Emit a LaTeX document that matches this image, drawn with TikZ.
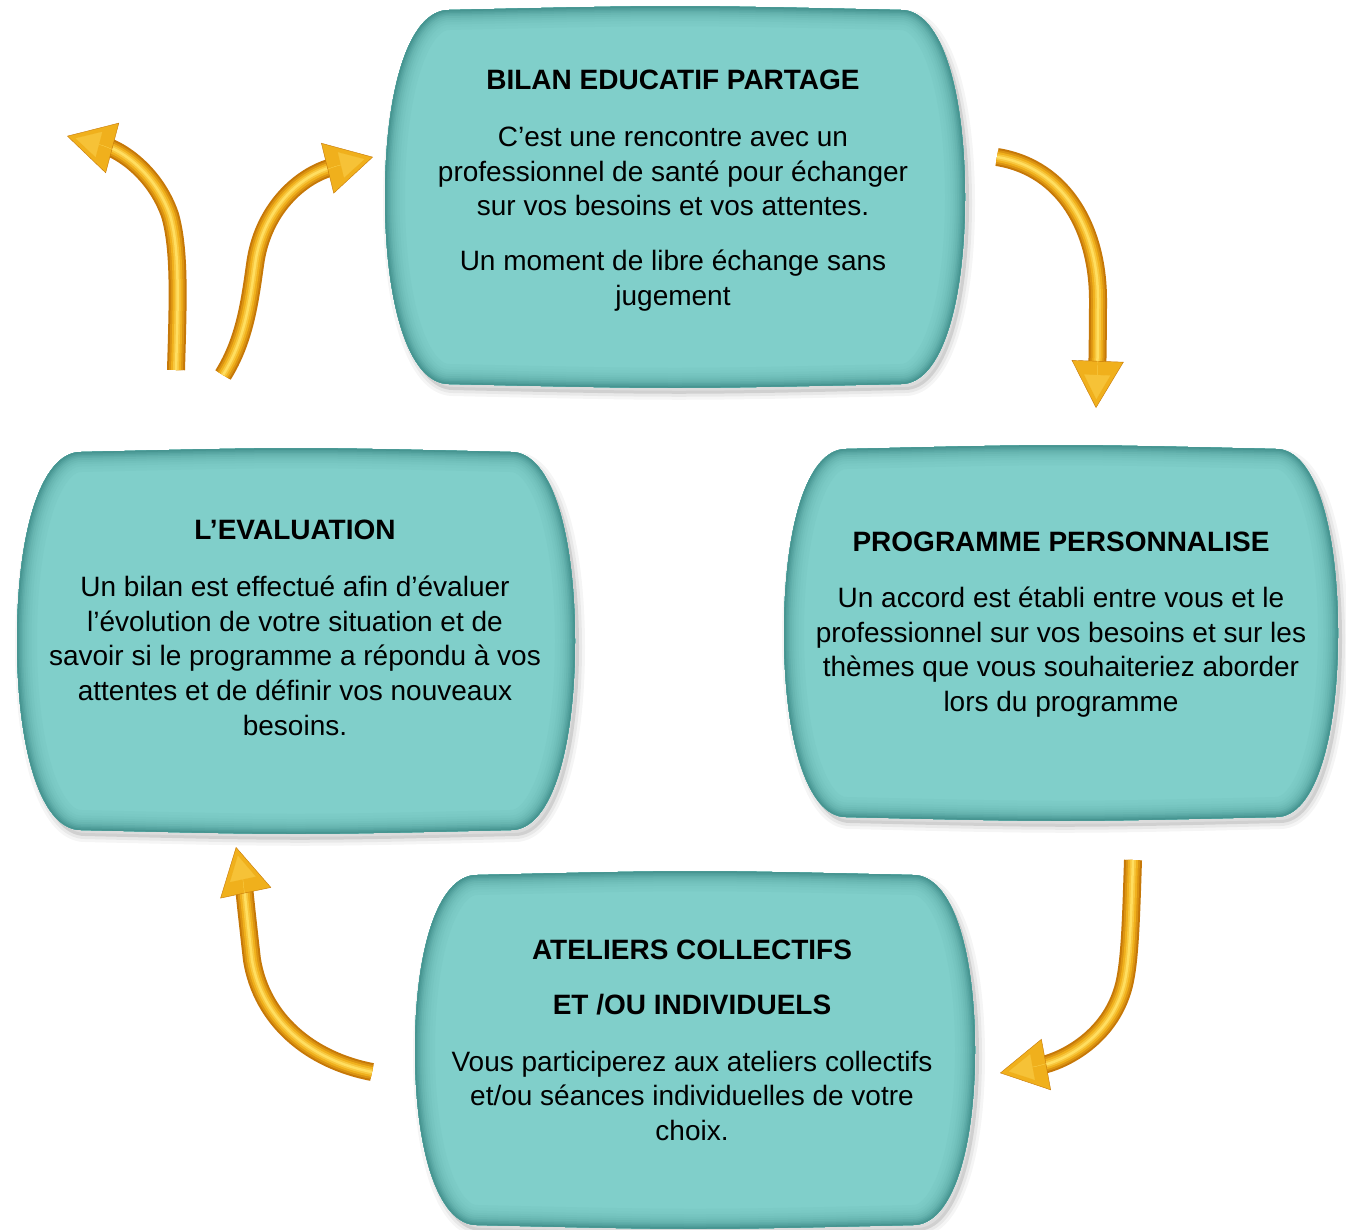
\documentclass[tikz,border=0pt]{standalone}
\usepackage{fontspec}
\setmainfont{Liberation Sans}
\usetikzlibrary{arrows.meta}
\definecolor{tealbase}{RGB}{128,207,202}
\definecolor{tealedge}{RGB}{58,136,132}
\definecolor{golddark}{RGB}{198,120,8}
\definecolor{goldmid}{RGB}{240,176,28}
\definecolor{goldlight}{RGB}{255,222,96}

% barrel-shaped box: centre x, centre y, half width, half height, corner inset
\newcommand\barrelpath[5]{(#1-#3+#5,#2-#4) .. controls (#1,#2-#4-5) .. (#1+#3-#5,#2-#4)
  .. controls (#1+#3-0.35*#5,#2-#4) and (#1+#3,#2-0.55*#4) .. (#1+#3,#2)
  .. controls (#1+#3,#2+0.55*#4) and (#1+#3-0.35*#5,#2+#4) .. (#1+#3-#5,#2+#4)
  .. controls (#1,#2+#4+5) .. (#1-#3+#5,#2+#4)
  .. controls (#1-#3+0.35*#5,#2+#4) and (#1-#3,#2+0.55*#4) .. (#1-#3,#2)
  .. controls (#1-#3,#2-0.55*#4) and (#1-#3+0.35*#5,#2-#4) .. cycle}

\newcommand\drawbarrel[5]{%
  \begin{scope}[shift={(4,6)}]
    \fill[black,opacity=0.10] \barrelpath{#1}{#2}{#3}{#4}{#5};
    \draw[black,opacity=0.05,line width=6pt] \barrelpath{#1}{#2}{#3}{#4}{#5};
    \draw[black,opacity=0.04,line width=12pt] \barrelpath{#1}{#2}{#3}{#4}{#5};
  \end{scope}
  \begin{scope}
    \clip \barrelpath{#1}{#2}{#3}{#4}{#5};
    \fill[tealbase] \barrelpath{#1}{#2}{#3}{#4}{#5};
    \foreach \w/\m in {40/95,34/91,29/86,24/80,20/73,16/65,12/55,9/44,6/32,3/18}
      {\draw[tealbase!\m!tealedge,line width=\w pt] \barrelpath{#1}{#2}{#3}{#4}{#5};}
  \end{scope}}

\newcommand\goldarrow[1]{%
  \draw[draw=golddark,line width=18pt,shorten >=40pt] #1;
  \draw[draw=golddark!50!goldmid,line width=14pt,shorten >=40pt] #1;
  \draw[draw=goldmid,line width=10pt,shorten >=40pt] #1;
  \draw[draw=goldmid!50!goldlight,line width=6pt,shorten >=41pt] #1;
  \draw[draw=goldlight,line width=2.5pt,shorten >=42pt] #1;
  \draw[draw=goldlight,line width=0.4pt,-{Triangle[width=52pt,length=47pt,fill=goldmid,color=golddark]}] #1;
  \draw[draw=goldlight,line width=0.2pt,shorten >=9pt,-{Triangle[width=26pt,length=24pt,fill=goldmid!60!goldlight,color=goldmid!60!goldlight]}] #1;}

\tikzset{
  boxtext/.style={align=center,inner sep=0pt,anchor=north,text=black,
    font=\fontsize{28}{34.7}\selectfont},
}

\begin{document}
\begin{tikzpicture}[x=1pt,y=-1pt]
\useasboundingbox (0,0) rectangle (1346,1229);
\fill[white] (0,0) rectangle (1346,1229);

% boxes
\drawbarrel{675}{197}{290}{187}{64}
\drawbarrel{296}{641}{279}{189}{64}
\drawbarrel{1061}{633}{277}{184}{62}
\drawbarrel{695}{1050}{280}{175}{62}

\node[boxtext] (bilan) at (673,70) {\textbf{BILAN EDUCATIF PARTAGE}\\[22pt]
  C’est une rencontre avec un\\ professionnel de santé pour échanger\\
  sur vos besoins et vos attentes.\\[20pt]
  Un moment de libre échange sans\\ jugement};
\node[boxtext] (evaluation) at (295,520) {\textbf{L’EVALUATION}\\[22pt]
  Un bilan est effectué afin d’évaluer\\ l’évolution de votre situation et de\\
  savoir si le programme a répondu à vos\\ attentes et de définir vos nouveaux\\ besoins.};
\node[boxtext] (programme) at (1061,532) {\textbf{PROGRAMME PERSONNALISE}\\[21pt]
  Un accord est établi entre vous et le\\ professionnel sur vos besoins et sur les\\
  thèmes que vous souhaiteriez aborder\\ lors du programme};
\node[boxtext] (ateliers) at (692,940) {\textbf{ATELIERS COLLECTIFS}\\[20pt]
  \textbf{ET /OU INDIVIDUELS}\\[22pt]
  Vous participerez aux ateliers collectifs\\ et/ou séances individuelles de votre\\ choix.};

% arrow end points
\coordinate (a1s) at (997,157);  \coordinate (a1e) at (1096,408);
\coordinate (a2s) at (1133,860); \coordinate (a2e) at (1000,1073);
\coordinate (a3s) at (372,1072); \coordinate (a3e) at (236,847);
\coordinate (a4s) at (176,370);  \coordinate (a4e) at (67,136);
\coordinate (a5s) at (223,375);  \coordinate (a5e) at (373,157);

\goldarrow{(a1s) .. controls (1065,168) and (1098,230) .. (1098,300) .. controls (1098,340) and (1097,380) .. (a1e)}
\goldarrow{(a2s) .. controls (1131,920) and (1130,960) .. (1124,985) .. controls (1110,1040) and (1060,1062) .. (a2e)}
\goldarrow{(a3s) .. controls (310,1060) and (262,1020) .. (252,960) .. controls (248,925) and (243,880) .. (a3e)}
\goldarrow{(a4s) .. controls (178,300) and (180,250) .. (170,215) .. controls (155,172) and (120,150) .. (a4e)}
\goldarrow{(a5s) .. controls (245,340) and (250,300) .. (255,265) .. controls (262,210) and (300,175) .. (a5e)}
\end{tikzpicture}
\end{document}
